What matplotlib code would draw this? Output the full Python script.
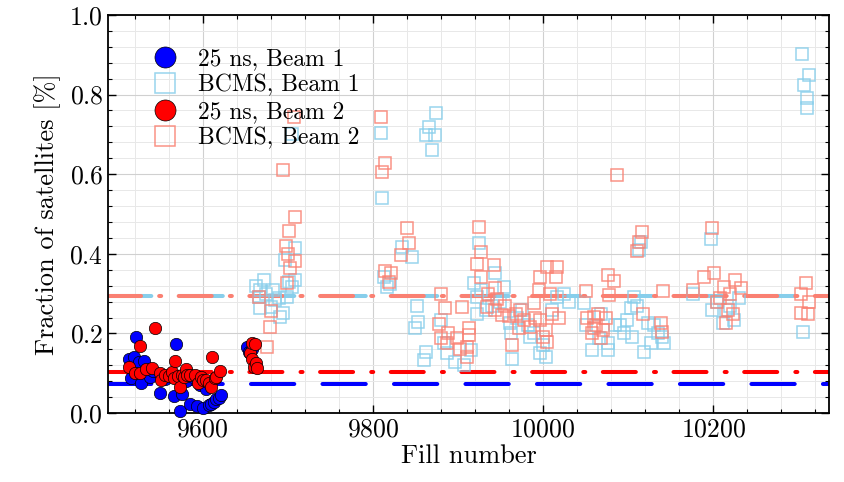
import numpy as np
import matplotlib
matplotlib.use("Agg")
import matplotlib.pyplot as plt
from matplotlib.ticker import MultipleLocator

plt.rcParams['font.family'] = 'serif'
plt.rcParams['font.serif'] = ['cmr10']
plt.rcParams['mathtext.fontset'] = 'cm'
plt.rcParams['axes.formatter.use_mathtext'] = True

# 25 ns beams (filled circles)
fill_25_b1 = [9513, 9516, 9519, 9522, 9525, 9528, 9531, 9538, 9542, 9550, 9556, 9562,
              9566, 9569, 9573, 9576, 9580, 9585, 9589, 9593, 9597, 9601, 9604, 9607,
              9610, 9613, 9616, 9619, 9622, 9652, 9655, 9658]
frac_25_b1 = [0.135, 0.089, 0.140, 0.192, 0.129, 0.075, 0.131, 0.091, 0.105, 0.051, 0.085, 0.095,
              0.043, 0.173, 0.006, 0.049, 0.080, 0.023, 0.090, 0.018, 0.070, 0.012, 0.060, 0.020,
              0.024, 0.028, 0.035, 0.039, 0.045, 0.167, 0.154, 0.160]

fill_25_b2 = [9514, 9520, 9526, 9527, 9533, 9540, 9544, 9550, 9551, 9556, 9560, 9564,
              9566, 9568, 9571, 9574, 9576, 9578, 9581, 9582, 9585, 9591, 9595, 9598,
              9601, 9604, 9607, 9610, 9611, 9615, 9616, 9620, 9656, 9658, 9658, 9660,
              9661, 9663, 9664]
frac_25_b2 = [0.115, 0.100, 0.168, 0.100, 0.110, 0.112, 0.213, 0.100, 0.083, 0.095, 0.093, 0.104,
              0.087, 0.131, 0.093, 0.066, 0.095, 0.090, 0.110, 0.095, 0.095, 0.095, 0.075, 0.090,
              0.083, 0.083, 0.075, 0.065, 0.141, 0.087, 0.091, 0.106, 0.150, 0.175, 0.137, 0.116,
              0.173, 0.125, 0.114]

# BCMS beams (open squares)
fill_bcms_b1 = [9663, 9666, 9668, 9668, 9672, 9675, 9680, 9683, 9685, 9690, 9691, 9695,
                9697, 9699, 9702, 9705, 9709, 9709, 9705,
                9810, 9811, 9813, 9817, 9820, 9834, 9846, 9852, 9853, 9849, 9862, 9860,
                9862, 9866, 9870, 9873, 9874, 9880, 9884, 9887, 9897, 9907, 9915, 9919,
                9923, 9925, 9923, 9927, 9933, 9940, 9944, 9950, 9954, 9962, 9963, 9961,
                9970, 9975, 9982, 9985, 9989, 9997, 10000, 10003, 10010, 10017, 10025, 10030,
                10048, 10050, 10058, 10066, 10068, 10076, 10076, 10085, 10091, 10095, 10099,
                10103, 10105, 10107, 10110, 10113, 10115, 10119, 10123, 10127, 10130, 10135,
                10142, 10140, 10176, 10197, 10199, 10205, 10211, 10215, 10220, 10225, 10230,
                10305, 10304, 10313, 10307, 10310, 10310]
frac_bcms_b1 = [0.320, 0.292, 0.309, 0.263, 0.334, 0.300, 0.267, 0.309, 0.284, 0.290, 0.242, 0.252,
                0.384, 0.292, 0.330, 0.317, 0.334, 0.414, 0.700,
                0.703, 0.541, 0.343, 0.317, 0.325, 0.418, 0.393, 0.269, 0.229, 0.213, 0.154, 0.133,
                0.698, 0.719, 0.661, 0.698, 0.753, 0.234, 0.175, 0.151, 0.129, 0.121, 0.158, 0.326,
                0.292, 0.426, 0.250, 0.309, 0.259, 0.270, 0.351, 0.280, 0.317, 0.200, 0.137, 0.225,
                0.240, 0.260, 0.221, 0.190, 0.200, 0.150, 0.170, 0.141, 0.260, 0.292, 0.300, 0.280,
                0.276, 0.221, 0.158, 0.188, 0.250, 0.175, 0.158, 0.220, 0.221, 0.200, 0.234,
                0.263, 0.190, 0.292, 0.270, 0.410, 0.430, 0.154, 0.225, 0.175, 0.220, 0.200,
                0.175, 0.190, 0.300, 0.436, 0.259, 0.280, 0.225, 0.260, 0.270, 0.234, 0.290,
                0.204, 0.901, 0.849, 0.824, 0.792, 0.767]

fill_bcms_b2 = [9666, 9676, 9679, 9680, 9695, 9698, 9699, 9700, 9701, 9703, 9707, 9709, 9709,
                9810, 9811, 9814, 9814, 9819, 9821, 9833, 9840, 9842, 9878, 9880, 9880,
                9885, 9887, 9888, 9899, 9902, 9905, 9911, 9911, 9913, 9913, 9922, 9925,
                9927, 9927, 9934, 9935, 9942, 9943, 9944, 9946, 9952, 9955, 9960, 9964, 9968,
                9972, 9973, 9978, 9985, 9989, 9990, 9995, 9996, 9997, 10000, 10003, 10005,
                10005, 10008, 10011, 10015, 10017, 10019, 10050, 10052, 10058, 10060, 10060,
                10062, 10065, 10068, 10070, 10074, 10076, 10078, 10084, 10087, 10110, 10113,
                10116, 10117, 10139, 10140, 10141, 10176, 10189, 10198, 10201, 10205, 10208,
                10213, 10215, 10217, 10220, 10223, 10226, 10233, 10303, 10303, 10309, 10311,
                10313]
frac_bcms_b2 = [0.292, 0.167, 0.217, 0.257, 0.611, 0.420, 0.327, 0.400, 0.457, 0.364, 0.744, 0.493, 0.383,
                0.744, 0.606, 0.627, 0.358, 0.328, 0.352, 0.397, 0.466, 0.426, 0.223, 0.188, 0.300,
                0.263, 0.175, 0.202, 0.188, 0.160, 0.267, 0.141, 0.167, 0.196, 0.213, 0.374, 0.468,
                0.405, 0.342, 0.267, 0.300, 0.372, 0.313, 0.259, 0.286, 0.246, 0.270, 0.244, 0.171, 0.250,
                0.213, 0.259, 0.234, 0.217, 0.277, 0.240, 0.309, 0.234, 0.342, 0.190, 0.209, 0.179,
                0.368, 0.300, 0.250, 0.342, 0.368, 0.238, 0.307, 0.240, 0.200, 0.242, 0.213,
                0.220, 0.250, 0.188, 0.209, 0.238, 0.347, 0.296, 0.332, 0.598, 0.407, 0.430,
                0.456, 0.250, 0.225, 0.204, 0.307, 0.309, 0.341, 0.464, 0.351, 0.280, 0.290,
                0.317, 0.225, 0.259, 0.300, 0.250, 0.334, 0.313, 0.300, 0.252, 0.326, 0.249,
                0.280]

# average fractions
avg_25_b1 = 0.073
avg_25_b2 = 0.104
avg_bcms_b1 = 0.294
avg_bcms_b2 = 0.294

fig = plt.figure(figsize=(8.45, 4.82), dpi=100)
ax = fig.add_axes([0.128, 0.143, 0.853, 0.826])

dash = (10.75, 7)
dashdot = (8.2, 4.5, 0.5, 4.35)
lw = 2.9
ax.axhline(avg_bcms_b1, color='skyblue', lw=lw, dashes=dash, dash_capstyle='round', zorder=2)
ax.axhline(avg_bcms_b2, color='salmon', lw=lw, dashes=dashdot, dash_capstyle='round', zorder=2)
ax.axhline(avg_25_b1, color='blue', lw=lw, dashes=dash, dash_capstyle='round', zorder=2)
ax.axhline(avg_25_b2, color='red', lw=lw, dashes=dashdot, dash_capstyle='round', zorder=2)

ax.plot(fill_25_b1, frac_25_b1, 'o', color='blue', mec='k', mew=0.5, ms=8.9,
        label='25 ns, Beam 1', zorder=4, clip_on=False)
ax.plot(fill_bcms_b1, frac_bcms_b1, 's', mfc='none', mec='skyblue', mew=1.1, ms=8.5,
        alpha=0.85, label='BCMS, Beam 1', zorder=3)
ax.plot(fill_25_b2, frac_25_b2, 'o', color='red', mec='k', mew=0.5, ms=8.9,
        label='25 ns, Beam 2', zorder=4)
ax.plot(fill_bcms_b2, frac_bcms_b2, 's', mfc='none', mec='salmon', mew=1.1, ms=8.5,
        alpha=0.85, label='BCMS, Beam 2', zorder=3)

ax.set_xlim(9489, 10336)
ax.set_ylim(0, 1)
ax.xaxis.set_major_locator(MultipleLocator(200))
ax.xaxis.set_minor_locator(MultipleLocator(40))
ax.yaxis.set_major_locator(MultipleLocator(0.2))
ax.yaxis.set_minor_locator(MultipleLocator(0.04))
ax.grid(which='major', color='#d0d0d0', lw=0.8)
ax.grid(which='minor', color='#e8e8e8', lw=0.7)
ax.set_axisbelow(True)
ax.tick_params(which='both', direction='in', top=True, right=True, labelsize=18.5)
ax.tick_params(which='major', length=6, width=1.0)
ax.tick_params(which='minor', length=3, width=0.8)
for s in ax.spines.values():
    s.set_linewidth(1.3)

ax.set_xlabel('Fill number', fontsize=19, labelpad=2)
ax.set_ylabel('Fraction of satellites [%]', fontsize=19, labelpad=6)

ax.legend(loc='upper left', bbox_to_anchor=(0.033, 0.94), frameon=False, fontsize=17,
          markerscale=1.7, handletextpad=0.4, labelspacing=0.17, borderaxespad=0)

plt.savefig('out.png', dpi=100)
